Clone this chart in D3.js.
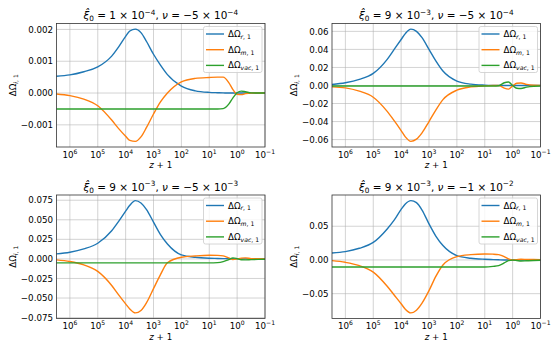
<!DOCTYPE html>
<head>
	<meta charset="utf-8">
	<script src="https://d3js.org/d3.v7.min.js"></script>
	<style>
		body { margin: 0; background: #fff; }
		svg text { font-family: "DejaVu Sans", sans-serif; fill: #000; }
	</style>
</head>
<body>
	<svg id="fig" width="560" height="350"></svg>
	<script>

	// sample points, log10(z+1), shared by every panel
	var logZ1 = [6.48, 6, 5.5, 5, 4.5, 4.25, 4, 3.85, 3.65, 3.45, 3.25, 3, 2.75, 2.5, 2, 1.5, 1, 0.7, 0.5, 0.3, 0.15, 0, -0.15, -0.3, -0.5, -0.75, -1];

	// panel 1: xi0 = 1e-4, nu = -5e-4
	var rad1 = [0.00053, 0.00057, 0.00067, 0.00082, 0.00116, 0.00145, 0.00178, 0.00195, 0.00201, 0.00190, 0.00162, 0.00122, 0.00088, 0.00058, 0.00022, 0.00007, 0.00002, 0.00001, 0.000005, 0, 0, 0, 0, 0, 0, 0, 0];
	var mat1 = [-0.00003, -0.00008, -0.00019, -0.0004, -0.00085, -0.00112, -0.00136, -0.00149, -0.00152, -0.00138, -0.00108, -0.00066, -0.00028, 0, 0.00035, 0.00046, 0.00049, 0.0005, 0.0005, 0.00033, 0.00011, -0.00004, -0.00005, -0.00002, 0, 0, 0];
	var vac1 = [-0.0005, -0.0005, -0.0005, -0.0005, -0.0005, -0.0005, -0.0005, -0.0005, -0.0005, -0.0005, -0.0005, -0.0005, -0.0005, -0.0005, -0.0005, -0.0005, -0.0005, -0.0005, -0.00049, -0.00035, -0.00015, 0.00001, 0.00006, 0.00004, 0.000005, 0, 0];

	// panel 2: xi0 = 9e-3, nu = -5e-4
	var rad2 = [0.0011, 0.003, 0.0067, 0.0134, 0.029, 0.04, 0.051, 0.0575, 0.0625, 0.06, 0.053, 0.04, 0.027, 0.016, 0.0049, 0.0015, 0.0004, 0.0001, 0, 0, 0, 0, 0, 0, 0, 0, 0];
	var mat2 = [-0.0015, -0.0026, -0.0063, -0.013, -0.0287, -0.039, -0.05, -0.057, -0.062, -0.0595, -0.0525, -0.04, -0.027, -0.0157, -0.0052, -0.0015, -0.0004, -0.0001, 0, -0.003, -0.004, -0.0005, 0.0025, 0.0028, 0.0012, 0.0003, 0.0001];
	var vac2 = [-0.0005, -0.0005, -0.0005, -0.0005, -0.0005, -0.0005, -0.0005, -0.0005, -0.0005, -0.0005, -0.0005, -0.0005, -0.0005, -0.0005, -0.0005, -0.0005, -0.0005, -0.0005, -0.0003, 0.003, 0.0038, 0, -0.003, -0.0033, -0.0018, -0.0008, -0.0005];

	// panel 3: xi0 = 9e-3, nu = -5e-3
	var rad3 = [0.0064, 0.0085, 0.0128, 0.02, 0.036, 0.048, 0.061, 0.0685, 0.0745, 0.0715, 0.063, 0.047, 0.031, 0.019, 0.0051, 0.0021, 0.0009, 0.0006, 0.0004, 0.0002, 0.0001, 0, 0, 0, 0, 0, 0];
	var mat3 = [-0.0013, -0.0034, -0.0077, -0.016, -0.034, -0.046, -0.0575, -0.064, -0.069, -0.066, -0.056, -0.038, -0.02, -0.005, 0.0021, 0.0038, 0.0047, 0.0045, 0.0038, 0.0013, -0.0009, 0, 0.001, 0.0013, 0.0004, 0.0001, 0];
	var vac3 = [-0.0051, -0.0051, -0.0051, -0.0051, -0.0051, -0.0051, -0.0051, -0.0051, -0.0051, -0.0051, -0.0051, -0.0051, -0.0051, -0.0051, -0.0051, -0.0051, -0.0051, -0.0047, -0.0034, -0.0009, 0.0013, 0.0004, -0.001, -0.0012, -0.0009, -0.0006, -0.0004];

	// panel 4: xi0 = 9e-3, nu = -1e-2
	var rad4 = [0.0104, 0.0124, 0.0173, 0.026, 0.046, 0.059, 0.075, 0.083, 0.088, 0.085, 0.074, 0.0535, 0.035, 0.0213, 0.0064, 0.0025, 0.001, 0.0005, 0.0002, 0, 0, 0, 0, 0, 0, 0, 0];
	var mat4 = [-0.001, -0.0035, -0.0084, -0.018, -0.039, -0.052, -0.065, -0.073, -0.0785, -0.0745, -0.064, -0.0455, -0.024, -0.0074, 0.005, 0.0079, 0.0089, 0.0086, 0.0079, 0.005, 0.0015, 0, 0.0005, 0.001, 0.0008, 0.0006, 0.0005];
	var vac4 = [-0.0104, -0.0104, -0.0104, -0.0104, -0.0104, -0.0104, -0.0104, -0.0104, -0.0104, -0.0104, -0.0104, -0.0104, -0.0104, -0.0104, -0.0104, -0.0104, -0.0104, -0.0095, -0.0084, -0.0045, -0.001, -0.0003, -0.0008, -0.0015, -0.0012, -0.0008, -0.0005];

	// y ticks and their labels
	var yTicks1 = [-0.001, 0, 0.001, 0.002];
	var yLabels1 = ["\u22120.001", "0.000", "0.001", "0.002"];
	var yTicks2 = [-0.06, -0.04, -0.02, 0, 0.02, 0.04, 0.06];
	var yLabels2 = ["\u22120.06", "\u22120.04", "\u22120.02", "0.00", "0.02", "0.04", "0.06"];
	var yTicks3 = [-0.075, -0.05, -0.025, 0, 0.025, 0.05, 0.075];
	var yLabels3 = ["\u22120.075", "\u22120.050", "\u22120.025", "0.000", "0.025", "0.050", "0.075"];
	var yTicks4 = [-0.05, 0, 0.05];
	var yLabels4 = ["\u22120.05", "0.00", "0.05"];

	// x ticks: exponents of 10
	var xExps = [6, 5, 4, 3, 2, 1, 0, -1];

	// titles, as [text, flags] pieces
	var xiHat = "\u03be\u0302";
	var title1 = [[xiHat, "i"], ["0", "sub"], [" = 1 \u00d7 10"], ["\u22124", "sup"], [", "], ["\u03bd", "i"], [" = \u22125 \u00d7 10"], ["\u22124", "sup"]];
	var title2 = [[xiHat, "i"], ["0", "sub"], [" = 9 \u00d7 10"], ["\u22123", "sup"], [", "], ["\u03bd", "i"], [" = \u22125 \u00d7 10"], ["\u22124", "sup"]];
	var title3 = [[xiHat, "i"], ["0", "sub"], [" = 9 \u00d7 10"], ["\u22123", "sup"], [", "], ["\u03bd", "i"], [" = \u22125 \u00d7 10"], ["\u22123", "sup"]];
	var title4 = [[xiHat, "i"], ["0", "sub"], [" = 9 \u00d7 10"], ["\u22123", "sup"], [", "], ["\u03bd", "i"], [" = \u22121 \u00d7 10"], ["\u22122", "sup"]];

	var seriesNames = [
		[["\u0394\u03a9"], ["r", "sub i"], [", 1", "sub"]],
		[["\u0394\u03a9"], ["m", "sub i"], [", 1", "sub"]],
		[["\u0394\u03a9"], ["vac", "sub i"], [", 1", "sub"]]
	];
	var colors = ["#1f77b4", "#ff7f0e", "#2ca02c"];

	var panels = [
		{ x: 56.5, y: 23.5, series: [rad1, mat1, vac1], ticks: yTicks1, labels: yLabels1, title: title1 },
		{ x: 332, y: 23.5, series: [rad2, mat2, vac2], ticks: yTicks2, labels: yLabels2, title: title2 },
		{ x: 56.5, y: 195, series: [rad3, mat3, vac3], ticks: yTicks3, labels: yLabels3, title: title3 },
		{ x: 332, y: 195, series: [rad4, mat4, vac4], ticks: yTicks4, labels: yLabels4, title: title4 }
	];
	var pw = 208.5, ph = 123.5;
	var fs = 8.7;

	var svg = d3.select("#fig");

	// write a mathtext-like label with sub/superscripts
	function mathText(t, parts, size) {
		var cur = 0;
		parts.forEach(function(p) {
			var flags = (p[1] || "").split(" ");
			var shift = 0;
			if (flags.indexOf("sub") >= 0) shift = 0.22 * size;
			if (flags.indexOf("sup") >= 0) shift = -0.42 * size;
			var ts = t.append("tspan")
				.attr("dy", shift - cur)
				.style("font-size", (shift ? 0.7 * size : size) + "px")
				.text(p[0]);
			if (flags.indexOf("i") >= 0) ts.style("font-style", "italic");
			cur = shift;
		});
		return t;
	}

	var zPlus1 = logZ1.map(function(l) { return Math.pow(10, l); });

	panels.forEach(function(p) {
		var g = svg.append("g").attr("transform", "translate(" + p.x + "," + p.y + ")");

		var x = d3.scaleLog()
			.domain([zPlus1[0], zPlus1[zPlus1.length - 1]])
			.range([0, pw]);

		var all = d3.merge(p.series);
		var ext = d3.extent(all);
		var m = (ext[1] - ext[0]) * 0.05;
		var y = d3.scaleLinear()
			.domain([ext[0] - m, ext[1] + m])
			.range([ph, 0]);

		// grid
		g.selectAll(".gx").data(xExps).enter().append("line")
			.attr("x1", function(e) { return x(Math.pow(10, e)); })
			.attr("x2", function(e) { return x(Math.pow(10, e)); })
			.attr("y1", 0).attr("y2", ph)
			.attr("stroke", "#b0b0b0").attr("stroke-opacity", 0.7).attr("stroke-width", 0.8);
		g.selectAll(".gy").data(p.ticks).enter().append("line")
			.attr("x1", 0).attr("x2", pw)
			.attr("y1", function(d) { return y(d); })
			.attr("y2", function(d) { return y(d); })
			.attr("stroke", "#b0b0b0").attr("stroke-opacity", 0.7).attr("stroke-width", 0.8);

		// curves
		var line = d3.line()
			.x(function(d, i) { return x(zPlus1[i]); })
			.y(function(d) { return y(d); })
			.curve(d3.curveMonotoneX);
		p.series.forEach(function(s, k) {
			g.append("path")
				.attr("d", line(s))
				.attr("fill", "none")
				.attr("stroke", colors[k])
				.attr("stroke-width", 1.4);
		});

		// frame
		g.append("rect")
			.attr("width", pw).attr("height", ph)
			.attr("fill", "none").attr("stroke", "#333").attr("stroke-width", 0.8);

		// y tick labels
		var tl = g.selectAll(".yt").data(p.ticks).enter().append("text")
			.attr("x", -3.5)
			.attr("y", function(d) { return y(d); })
			.attr("dy", "0.36em")
			.attr("text-anchor", "end")
			.style("font-size", fs + "px")
			.text(function(d, i) { return p.labels[i]; });
		var minX = 0;
		tl.each(function() { minX = Math.min(minX, this.getBBox().x); });

		// x tick labels
		xExps.forEach(function(e) {
			var t = g.append("text")
				.attr("x", x(Math.pow(10, e)))
				.attr("y", ph + 10.5)
				.attr("text-anchor", "middle");
			mathText(t, [["10"], [e < 0 ? "\u2212" + (-e) : "" + e, "sup"]], fs);
		});

		// axis labels
		mathText(g.append("text")
			.attr("x", pw / 2).attr("y", ph + 21)
			.attr("text-anchor", "middle"), [["z", "i"], [" + 1"]], fs);
		mathText(g.append("text")
			.attr("transform", "translate(" + (minX - 5) + "," + (ph / 2) + ") rotate(-90)")
			.attr("text-anchor", "middle"), [["\u0394\u03a9"], ["i", "sub i"], [", 1", "sub"]], fs);

		// title
		mathText(g.append("text")
			.attr("x", pw / 2).attr("y", -4.5)
			.attr("text-anchor", "middle"), p.title, fs * 1.2);

		// legend
		var lg = g.append("g");
		var box = lg.append("rect");
		var maxW = 0;
		seriesNames.forEach(function(n, k) {
			var cy = 7.5 + k * 15.7;
			lg.append("line")
				.attr("x1", 2.5).attr("x2", 20.5)
				.attr("y1", cy).attr("y2", cy)
				.attr("stroke", colors[k]).attr("stroke-width", 1.4);
			var t = mathText(lg.append("text").attr("x", 24.5).attr("y", cy + 3), n, fs);
			maxW = Math.max(maxW, t.node().getComputedTextLength());
		});
		var bw = 24.5 + maxW + 3, bh = 46;
		box.attr("width", bw).attr("height", bh).attr("rx", 2)
			.attr("fill", "#fff").attr("fill-opacity", 0.8)
			.attr("stroke", "#ccc").attr("stroke-width", 0.8);
		lg.attr("transform", "translate(" + (pw - 3 - bw) + ",3)");
	});

	</script>
</body>
</html>
